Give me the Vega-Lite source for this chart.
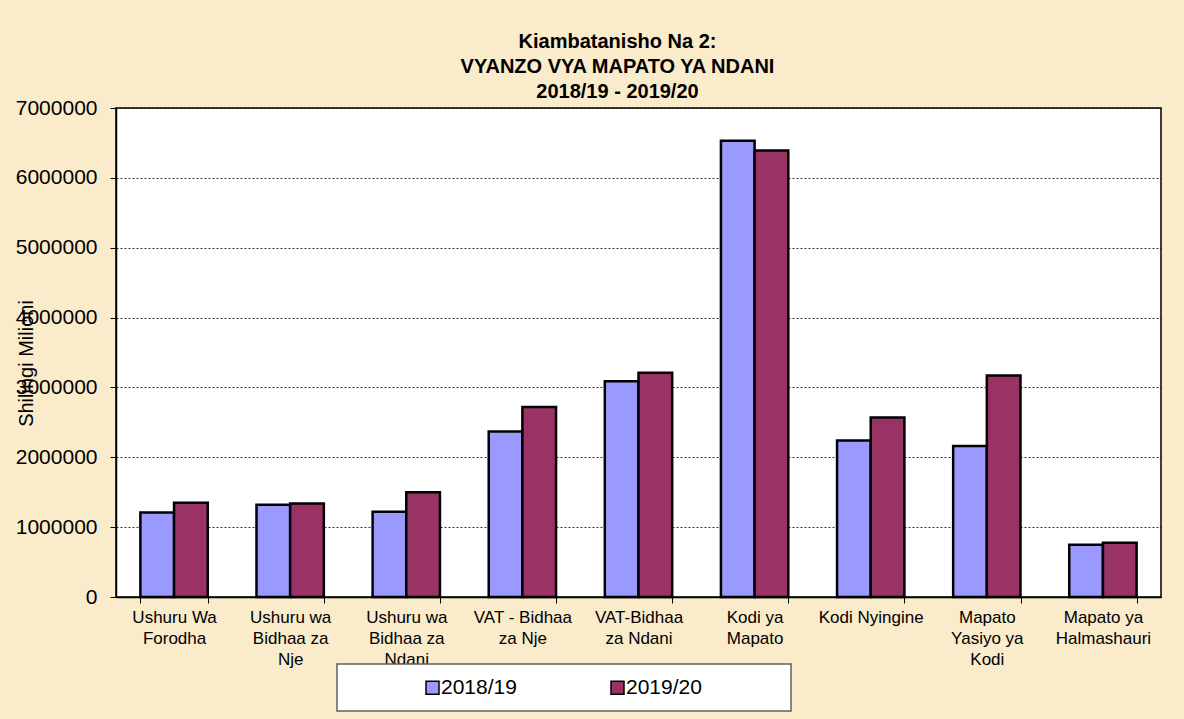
{
  "$schema": "https://vega.github.io/schema/vega-lite/v6.json",
  "width": 1045,
  "height": 489,
  "autosize": {"type": "none"},
  "padding": {"left": 116, "top": 108, "right": 23, "bottom": 122},
  "background": "#FAEBCB",
  "config": {
    "font": "Liberation Sans",
    "view": {"fill": "white", "stroke": "black", "strokeWidth": 1.5}
  },
  "title": {
    "text": ["Kiambatanisho Na 2:", "VYANZO VYA MAPATO YA NDANI", "2018/19 - 2019/20"],
    "fontSize": 20,
    "fontWeight": "bold",
    "color": "black",
    "anchor": "middle",
    "frame": "group",
    "dx": -21,
    "offset": -5,
    "lineHeight": 25
  },
  "data": {
    "values": [
      {"source": "Ushuru Wa Forodha", "year": "2018/19", "value": 1210000},
      {"source": "Ushuru Wa Forodha", "year": "2019/20", "value": 1350000},
      {"source": "Ushuru wa Bidhaa za Nje", "year": "2018/19", "value": 1320000},
      {"source": "Ushuru wa Bidhaa za Nje", "year": "2019/20", "value": 1340000},
      {"source": "Ushuru wa Bidhaa za Ndani", "year": "2018/19", "value": 1220000},
      {"source": "Ushuru wa Bidhaa za Ndani", "year": "2019/20", "value": 1500000},
      {"source": "VAT - Bidhaa za Nje", "year": "2018/19", "value": 2370000},
      {"source": "VAT - Bidhaa za Nje", "year": "2019/20", "value": 2720000},
      {"source": "VAT-Bidhaa za Ndani", "year": "2018/19", "value": 3090000},
      {"source": "VAT-Bidhaa za Ndani", "year": "2019/20", "value": 3210000},
      {"source": "Kodi ya Mapato", "year": "2018/19", "value": 6530000},
      {"source": "Kodi ya Mapato", "year": "2019/20", "value": 6390000},
      {"source": "Kodi Nyingine", "year": "2018/19", "value": 2240000},
      {"source": "Kodi Nyingine", "year": "2019/20", "value": 2570000},
      {"source": "Mapato Yasiyo ya Kodi", "year": "2018/19", "value": 2160000},
      {"source": "Mapato Yasiyo ya Kodi", "year": "2019/20", "value": 3170000},
      {"source": "Mapato ya Halmashauri", "year": "2018/19", "value": 747000},
      {"source": "Mapato ya Halmashauri", "year": "2019/20", "value": 776000}
    ]
  },
  "mark": {"type": "bar", "stroke": "black", "strokeWidth": 2.5},
  "encoding": {
    "x": {
      "field": "source",
      "type": "nominal",
      "sort": null,
      "scale": {"paddingInner": 0.42, "paddingOuter": 0.21},
      "axis": {
        "title": null,
        "labelAngle": 0,
        "labelFontSize": 17,
        "labelColor": "black",
        "labelLineHeight": 21,
        "labelLimit": 0,
        "labelPadding": 6,
        "labelExpr": "{'Ushuru Wa Forodha': ['Ushuru Wa', 'Forodha'], 'Ushuru wa Bidhaa za Nje': ['Ushuru wa', 'Bidhaa za', 'Nje'], 'Ushuru wa Bidhaa za Ndani': ['Ushuru wa', 'Bidhaa za', 'Ndani'], 'VAT - Bidhaa za Nje': ['VAT - Bidhaa', 'za Nje'], 'VAT-Bidhaa za Ndani': ['VAT-Bidhaa', 'za Ndani'], 'Kodi ya Mapato': ['Kodi ya', 'Mapato'], 'Kodi Nyingine': ['Kodi Nyingine'], 'Mapato Yasiyo ya Kodi': ['Mapato', 'Yasiyo ya', 'Kodi'], 'Mapato ya Halmashauri': ['Mapato ya', 'Halmashauri']}[datum.label]",
        "tickBand": "extent",
        "tickSize": 6,
        "tickColor": "black",
        "domainColor": "black",
        "domainWidth": 1.5
      }
    },
    "xOffset": {"field": "year", "type": "nominal", "scale": {"paddingInner": 0, "paddingOuter": 0}},
    "y": {
      "field": "value",
      "type": "quantitative",
      "scale": {"domain": [0, 7000000], "nice": false},
      "axis": {
        "title": "Shilingi Milioni",
        "titleFontSize": 20,
        "titleFontWeight": "normal",
        "titleColor": "black",
        "titleX": -90,
        "titleY": 255,
        "titleAngle": -90,
        "titleAlign": "center",
        "titleBaseline": "middle",
        "values": [0, 1000000, 2000000, 3000000, 4000000, 5000000, 6000000, 7000000],
        "format": "d",
        "labelFontSize": 21,
        "labelColor": "black",
        "labelPadding": 13,
        "tickSize": 6,
        "tickColor": "black",
        "domainColor": "black",
        "domainWidth": 1.5,
        "gridColor": "black",
        "gridDash": [2, 2],
        "gridWidth": 1,
        "gridOpacity": 0.8
      }
    },
    "color": {
      "field": "year",
      "type": "nominal",
      "scale": {"domain": ["2018/19", "2019/20"], "range": ["#9999FF", "#993366"]},
      "legend": {
        "title": null,
        "orient": "none",
        "legendX": 221,
        "legendY": 556,
        "direction": "horizontal",
        "fillColor": "white",
        "strokeColor": "#606060",
        "padding": 13,
        "labelFontSize": 21,
        "labelColor": "black",
        "labelOffset": -2,
        "labelLimit": 300,
        "symbolType": "square",
        "symbolSize": 169,
        "symbolStrokeColor": "black",
        "symbolStrokeWidth": 1.5,
        "symbolOffset": 72,
        "columnPadding": 18,
        "labelExpr": "datum.label == '2019/20' ? datum.label + '\u00a0\u00a0\u00a0\u00a0\u00a0\u00a0\u00a0\u00a0\u00a0\u00a0\u00a0\u00a0\u00a0\u200b' : datum.label",
        "encode": {"legend": {"update": {"strokeWidth": {"value": 1.5}}}}
      }
    }
  }
}
